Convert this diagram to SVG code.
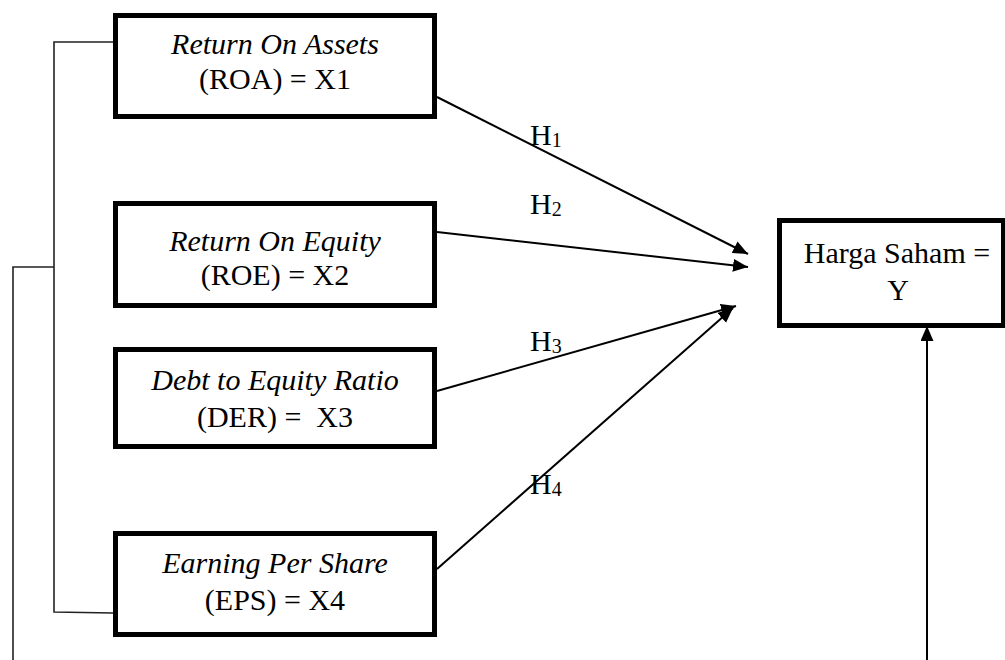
<svg xmlns="http://www.w3.org/2000/svg" width="1005" height="660" viewBox="0 0 1005 660">
<style>
.box{fill:#fff;stroke:#000;stroke-width:5}
.t{font-family:"Liberation Serif","Times New Roman",serif;font-size:30px;fill:#000;text-anchor:middle}
.i{font-style:italic}
.h{font-family:"Liberation Serif","Times New Roman",serif;font-size:30px;fill:#000}
.sub{font-size:20px}
.arr{fill:none;stroke:#000;stroke-width:2}
.br{fill:none;stroke:#222;stroke-width:1.6}
</style>
<defs>
<marker id="ah" markerUnits="userSpaceOnUse" markerWidth="16" markerHeight="14" refX="15" refY="6.5" orient="auto">
<path d="M0,0 L15,6.5 L0,13 z" fill="#000"/>
</marker>
</defs>
<rect width="1005" height="660" fill="#fff"/>
<g id="connectors">
<path class="br" d="M113,42 H54 V612 L113,613"/>
<path class="br" d="M54,267 H13 V660"/>
<path class="arr" d="M437,97 L748,254" marker-end="url(#ah)"/>
<path class="arr" d="M437,232 L748,267" marker-end="url(#ah)"/>
<path class="arr" d="M437,391 L736,306" marker-end="url(#ah)"/>
<path class="arr" d="M437,569 L733,308" marker-end="url(#ah)"/>
<path class="arr" d="M927,660 V326" marker-end="url(#ah)"/>
</g>
<g id="roa">
<rect class="box" x="115.5" y="15.5" width="319" height="101"/>
<text class="t i" x="275" y="54">Return On Assets</text>
<text class="t" x="275" y="89">(ROA) = X1</text>
</g>
<g id="roe">
<rect class="box" x="115.5" y="203.5" width="319" height="102"/>
<text class="t i" x="275" y="251">Return On Equity</text>
<text class="t" x="275" y="285">(ROE) = X2</text>
</g>
<g id="der">
<rect class="box" x="115.5" y="349.5" width="319" height="97"/>
<text class="t i" x="275" y="390">Debt to Equity Ratio</text>
<text class="t" x="275" y="427" xml:space="preserve">(DER) =  X3</text>
</g>
<g id="eps">
<rect class="box" x="115.5" y="533.5" width="319" height="101"/>
<text class="t i" x="275" y="573">Earning Per Share</text>
<text class="t" x="275" y="610">(EPS) = X4</text>
</g>
<g id="harga">
<rect class="box" x="779.5" y="220.5" width="224" height="105"/>
<text class="t" x="897" y="263">Harga Saham =</text>
<text class="t" x="898" y="300">Y</text>
</g>
<g id="labels">
<text class="h" x="530" y="145">H<tspan class="sub" dy="2">1</tspan></text>
<text class="h" x="530" y="214">H<tspan class="sub" dy="2">2</tspan></text>
<text class="h" x="530" y="351">H<tspan class="sub" dy="2">3</tspan></text>
<text class="h" x="530" y="494">H<tspan class="sub" dy="2">4</tspan></text>
</g>
</svg>
